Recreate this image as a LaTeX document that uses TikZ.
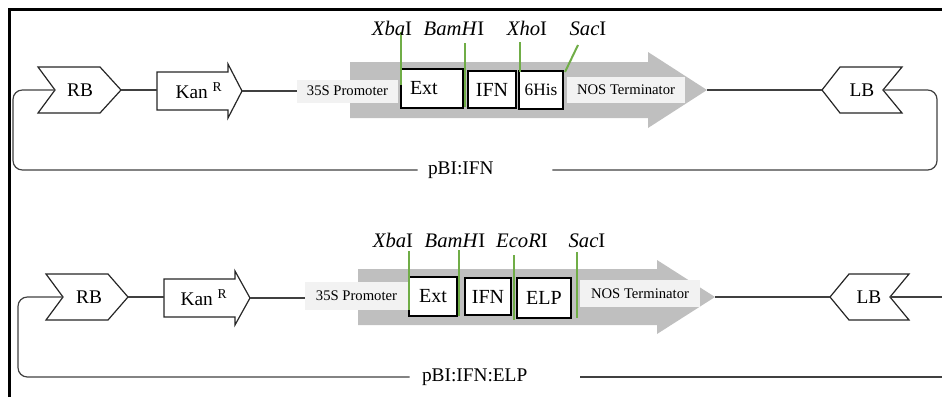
\documentclass[tikz,border=0pt]{standalone}
\usepackage{fontspec}
\setmainfont{Liberation Serif}
\usetikzlibrary{positioning}
\definecolor{sitegreen}{RGB}{112, 173, 71}
\definecolor{cassgray}{RGB}{191, 191, 191}
\definecolor{boxgray}{RGB}{242, 242, 242}
\definecolor{wiregray}{RGB}{64, 64, 64}

\begin{document}
\begin{tikzpicture}[x=0.75pt, y=-0.75pt,
  wire/.style={draw=wiregray, line width=0.9pt},
  outline/.style={draw=black!85, line width=0.9pt, fill=white},
  genebox/.style={draw=black, line width=1.1pt, fill=white, inner sep=0pt, font=\fontsize{15}{18}\selectfont},
  promobox/.style={fill=boxgray, inner sep=0pt, font=\fontsize{11}{13}\selectfont},
  site/.style={draw=sitegreen, line width=1.5pt},
  sitelbl/.style={anchor=base, inner sep=0pt, font=\fontsize{15.5}{18}\selectfont},
  bigtxt/.style={font=\fontsize{14.5}{17}\selectfont}]
  \useasboundingbox (0,0) rectangle (942,397);

  % ---------- pBI:IFN ----------
  % RB border
  \draw[outline] (38,67) -- (100,67) -- (121,90) -- (100,113) -- (38,113) -- (55,90) -- cycle;
  \node[bigtxt] (rb1) at (80,90) {RB};
  \coordinate (rb1tip) at (121,90);
  \coordinate (rb1notch) at (55,90);

  % Kan R
  \draw[outline] (157,72) -- (228,72) -- (228,64) -- (242,91) -- (228,118) -- (228,110) -- (157,110) -- cycle;
  \node[bigtxt] (kan1) at (199,91) {Kan \textsuperscript{R}};
  \coordinate (kan1tail) at (157,90);
  \coordinate (kan1tip) at (242,91);

  % expression cassette
  \fill[cassgray] (350,62) -- (648,62) -- (648,52) -- (707,90) -- (648,128) -- (648,118) -- (350,118) -- cycle;
  \coordinate (cass1tip) at (707,90);
  \node[promobox, minimum width=75.75pt, minimum height=17.25pt] (prom1) at (347.5,91) {35S Promoter};
  \node[genebox, minimum width=46.5pt, minimum height=29.25pt, inner xsep=6.75pt, text width=33pt, align=left] (ext1) at (432,88.5) {Ext};
  \node[genebox, minimum width=36pt, minimum height=27.75pt] (ifn1) at (492,89.5) {IFN};
  \node[genebox, minimum width=33pt, minimum height=28.5pt, font=\fontsize{13}{15}\selectfont] (his1) at (541,90) {6His};
  \node[promobox, minimum width=88.5pt, minimum height=19.5pt] (nos1) at (626,90) {NOS Terminator};

  % restriction sites
  \draw[site] (401,32) -- (401,85);
  \draw[site] (465,43) -- (465,107);
  \draw[site] (520,42) -- (520,72);
  \draw[site] (578,45) -- (565,72);
  \node[sitelbl] (xba1) at (392,35) {\textit{Xba}I};
  \node[sitelbl] (bam1) at (454,35) {\textit{BamH}I};
  \node[sitelbl] (xho1) at (527,35) {\textit{Xho}I};
  \node[sitelbl] (sac1) at (588,35) {\textit{Sac}I};

  % LB border
  \draw[outline] (822,90) -- (840,67) -- (902,67) -- (883,90) -- (902,113) -- (840,113) -- cycle;
  \node[bigtxt] (lb1) at (862,90) {LB};
  \coordinate (lb1tip) at (822,90);
  \coordinate (lb1notch) at (883,90);

  % backbone
  \node[bigtxt, inner xsep=7.5pt, text width=85.5pt, align=left] (lab1) at (485,170) {pBI:IFN};
  \coordinate (loopl1) at (13,130);
  \coordinate (loopr1) at (937,130);
  \draw[wire] (rb1tip) -- (kan1tail);
  \draw[wire] (kan1tip) -- (kan1tip -| prom1.west);
  \draw[wire] (cass1tip) -- (lb1tip);
  \draw[wire, rounded corners=7pt] (rb1notch) -| (loopl1) |- (lab1.west);
  \draw[wire, rounded corners=7pt] (lab1.east) -| (loopr1) |- (lb1notch);

  % ---------- pBI:IFN:ELP ----------
  % RB border
  \draw[outline] (46,274) -- (108,274) -- (128,297) -- (108,320) -- (46,320) -- (63,297) -- cycle;
  \node[bigtxt] (rb2) at (89,297) {RB};
  \coordinate (rb2tip) at (128,297);
  \coordinate (rb2notch) at (63,297);

  % Kan R
  \draw[outline] (164,279) -- (235,279) -- (235,271) -- (250,298) -- (235,325) -- (235,317) -- (164,317) -- cycle;
  \node[bigtxt] (kan2) at (204,298) {Kan \textsuperscript{R}};
  \coordinate (kan2tail) at (164,297);
  \coordinate (kan2tip) at (250,298);

  % expression cassette
  \fill[cassgray] (358,269) -- (657,269) -- (657,260) -- (715,297) -- (657,334) -- (657,325) -- (358,325) -- cycle;
  \coordinate (cass2tip) at (715,297);
  \node[promobox, minimum width=77.25pt, minimum height=21pt] (prom2) at (356.5,296) {35S Promoter};
  \node[genebox, minimum width=36pt, minimum height=29.25pt] (ext2) at (433,296.5) {Ext};
  \node[genebox, minimum width=34.5pt, minimum height=27.75pt] (ifn2) at (488,296.5) {IFN};
  \node[genebox, minimum width=40.5pt, minimum height=30pt] (elp2) at (544,298) {ELP};
  \node[promobox, minimum width=90pt, minimum height=20.25pt] (nos2) at (640,293.5) {NOS Terminator};

  % restriction sites
  \draw[site] (409,251) -- (409,310);
  \draw[site] (459,250) -- (459,316);
  \draw[site] (514,255) -- (514,320);
  \draw[site] (577,252) -- (577,318);
  \node[sitelbl] (xba2) at (393,247) {\textit{Xba}I};
  \node[sitelbl] (bam2) at (455,247) {\textit{BamH}I};
  \node[sitelbl] (eco2) at (522,247) {\textit{EcoR}I};
  \node[sitelbl] (sac2) at (587,247) {\textit{Sac}I};

  % LB border
  \draw[outline] (830,297) -- (849,274) -- (909,274) -- (890,297) -- (909,320) -- (849,320) -- cycle;
  \node[bigtxt] (lb2) at (869,297) {LB};
  \coordinate (lb2tip) at (830,297);
  \coordinate (lb2notch) at (890,297);

  % backbone
  \node[bigtxt, inner xsep=9pt, text width=109.5pt, align=left] (lab2) at (495,377) {pBI:IFN:ELP};
  \coordinate (loopl2) at (18,340);
  \coordinate (edge2a) at (942,297);
  \coordinate (edge2b) at (942,377);
  \draw[wire] (rb2tip) -- (kan2tail);
  \draw[wire] (kan2tip) -- (kan2tip -| prom2.west);
  \draw[wire] (cass2tip) -- (lb2tip);
  \draw[wire, rounded corners=7pt] (rb2notch) -| (loopl2) |- (lab2.west);
  \draw[wire] (lab2.east) -- (edge2b);
  \draw[wire] (lb2notch) -- (edge2a);

  % frame
  \draw[line width=2.2pt] (9.5,397) -- (9.5,9.5) -- (942,9.5);
\end{tikzpicture}
\end{document}
